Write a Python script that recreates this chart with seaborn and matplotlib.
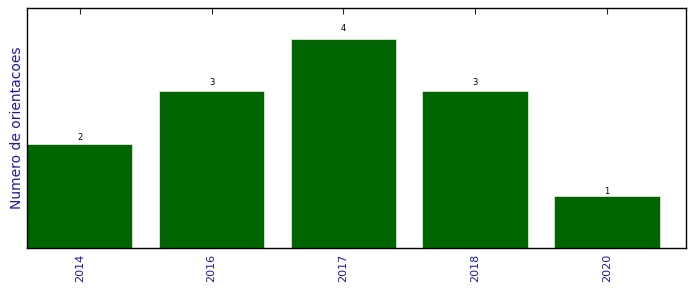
import matplotlib
matplotlib.use("Agg")
import matplotlib.pyplot as plt
import seaborn as sns
import pandas as pd

years = ["2014", "2016", "2017", "2018", "2020"]
counts = [2, 3, 4, 3, 1]

sns.set_style("white")
plt.rcParams['font.family'] = ['DejaVu Sans']

df = pd.DataFrame({"ano": years, "n": counts})

fig = plt.figure(figsize=(6.96, 2.92), dpi=100)
ax = fig.add_axes([27/696, 44/292, (686-27)/696, 240/292])
sns.barplot(data=df, x="ano", y="n", color="#006400", saturation=1, width=0.8,
            edgecolor="#d8e8d8", linewidth=0.6, ax=ax)

for i, v in enumerate(counts):
    ax.text(i, v * 1.04 - 0.04, str(v), ha="center", va="bottom", fontsize=6, color="black")

ax.set_xlim(-0.4, 4.6)
ax.set_ylim(0, 4.6)
ax.set_xlabel("")
ax.set_ylabel("Numero de orientacoes", color="#1a1aa6", fontsize=10, labelpad=2)
ax.set_yticks([])
ax.tick_params(axis="x", direction="in", top=True, bottom=True, length=4, width=0.8,
               labelcolor="#1a1aa6", labelsize=8, labelrotation=90, pad=4)
for s in ax.spines.values():
    s.set_visible(True)
    s.set_color("black")
    s.set_linewidth(1)

fig.savefig("out.png", dpi=100)
